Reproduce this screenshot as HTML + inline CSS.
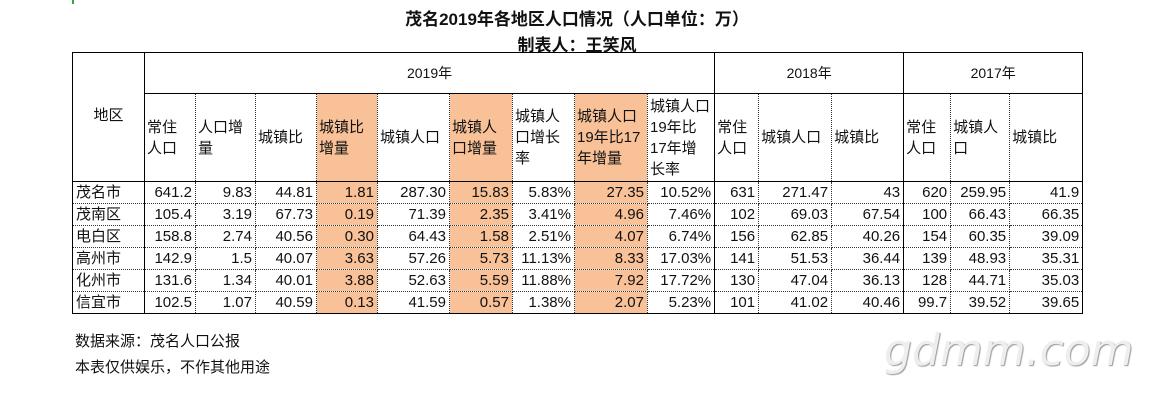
<!DOCTYPE html>
<html><head><meta charset="utf-8"><style>
body{margin:0;width:1154px;height:414px;background:#fff;position:relative;overflow:hidden;font-family:"Liberation Sans","Noto Sans CJK SC",sans-serif;color:#111}
.t1{position:absolute;top:5px;left:0;width:1154px;text-align:center;font-weight:bold;font-size:17px}
.t2{position:absolute;top:31px;left:0;width:1154px;text-align:center;font-weight:bold;font-size:17px}
table{position:absolute;left:72px;top:52px;border-collapse:collapse;table-layout:fixed;width:1010px;font-size:15px}
td{border:1px dotted #333;padding:0 3px;overflow:hidden;white-space:nowrap}
.h td{vertical-align:middle;line-height:21px;padding:0 2px;font-size:15px}
.y td{text-align:center;height:40px;border:1px solid #000;font-size:14px}
tr.d td{height:21px;text-align:right;font-size:15px;line-height:20px}
tr.d td:first-child{text-align:left;border-left:1px solid #000;border-right:1px solid #000}
.o{background:#f8c197}
.s{border-left:1px solid #000 !important}
.rb{border-right:1px solid #000 !important}
.hb td{border-bottom:1px solid #000}
tr.last td{border-bottom:1px solid #000}
.note{position:absolute;left:75px;font-size:15px}
.wm{position:absolute;left:884px;top:325px;font-size:44px;color:#eee;font-family:"DejaVu Sans",sans-serif;font-style:italic;text-shadow:1px 1px 1px #999}
</style></head><body>
<div style="position:absolute;left:72px;top:0;width:3px;height:4px;border-left:2px solid #3a3;"></div>
<div class="t1">茂名2019年各地区人口情况（人口单位：万）</div>
<div class="t2">制表人：王笑风</div>
<table>
<colgroup><col style="width:72px"><col style="width:51px"><col style="width:60px"><col style="width:61px"><col style="width:61px"><col style="width:72px"><col style="width:63px"><col style="width:62px"><col style="width:73px"><col style="width:67px"><col style="width:44px"><col style="width:73px"><col style="width:72px"><col style="width:47px"><col style="width:59px"><col style="width:73px"></colgroup>
<tr class="y"><td rowspan="2" style="border:1px solid #000;text-align:center;vertical-align:middle;padding-bottom:6px;font-size:15px">地区</td><td colspan="9">2019年</td><td colspan="3">2018年</td><td colspan="3">2017年</td></tr>
<tr class="h hb" style="height:88px"><td class="s">常住<br>人口</td><td>人口增<br>量</td><td>城镇比</td><td class="o">城镇比<br>增量</td><td>城镇人口</td><td class="o">城镇人<br>口增量</td><td>城镇人<br>口增长<br>率</td><td class="o">城镇人口<br>19年比17<br>年增量</td><td class="rb">城镇人口<br>19年比<br>17年增<br>长率</td><td>常住<br>人口</td><td>城镇人口</td><td class="rb">城镇比</td><td>常住<br>人口</td><td>城镇人<br>口</td><td class="rb">城镇比</td></tr>
<tr class="d"><td>茂名市</td><td>641.2</td><td>9.83</td><td>44.81</td><td class="o">1.81</td><td>287.30</td><td class="o">15.83</td><td>5.83%</td><td class="o">27.35</td><td class="rb">10.52%</td><td>631</td><td>271.47</td><td class="rb">43</td><td>620</td><td>259.95</td><td class="rb">41.9</td></tr>
<tr class="d"><td>茂南区</td><td>105.4</td><td>3.19</td><td>67.73</td><td class="o">0.19</td><td>71.39</td><td class="o">2.35</td><td>3.41%</td><td class="o">4.96</td><td class="rb">7.46%</td><td>102</td><td>69.03</td><td class="rb">67.54</td><td>100</td><td>66.43</td><td class="rb">66.35</td></tr>
<tr class="d"><td>电白区</td><td>158.8</td><td>2.74</td><td>40.56</td><td class="o">0.30</td><td>64.43</td><td class="o">1.58</td><td>2.51%</td><td class="o">4.07</td><td class="rb">6.74%</td><td>156</td><td>62.85</td><td class="rb">40.26</td><td>154</td><td>60.35</td><td class="rb">39.09</td></tr>
<tr class="d"><td>高州市</td><td>142.9</td><td>1.5</td><td>40.07</td><td class="o">3.63</td><td>57.26</td><td class="o">5.73</td><td>11.13%</td><td class="o">8.33</td><td class="rb">17.03%</td><td>141</td><td>51.53</td><td class="rb">36.44</td><td>139</td><td>48.93</td><td class="rb">35.31</td></tr>
<tr class="d"><td>化州市</td><td>131.6</td><td>1.34</td><td>40.01</td><td class="o">3.88</td><td>52.63</td><td class="o">5.59</td><td>11.88%</td><td class="o">7.92</td><td class="rb">17.72%</td><td>130</td><td>47.04</td><td class="rb">36.13</td><td>128</td><td>44.71</td><td class="rb">35.03</td></tr>
<tr class="d last"><td>信宜市</td><td>102.5</td><td>1.07</td><td>40.59</td><td class="o">0.13</td><td>41.59</td><td class="o">0.57</td><td>1.38%</td><td class="o">2.07</td><td class="rb">5.23%</td><td>101</td><td>41.02</td><td class="rb">40.46</td><td>99.7</td><td>39.52</td><td class="rb">39.65</td></tr>
</table>
<div class="note" style="top:330px">数据来源：茂名人口公报</div>
<div class="note" style="top:356px">本表仅供娱乐，不作其他用途</div>
<div class="wm">gdmm.com</div>
</body></html>
